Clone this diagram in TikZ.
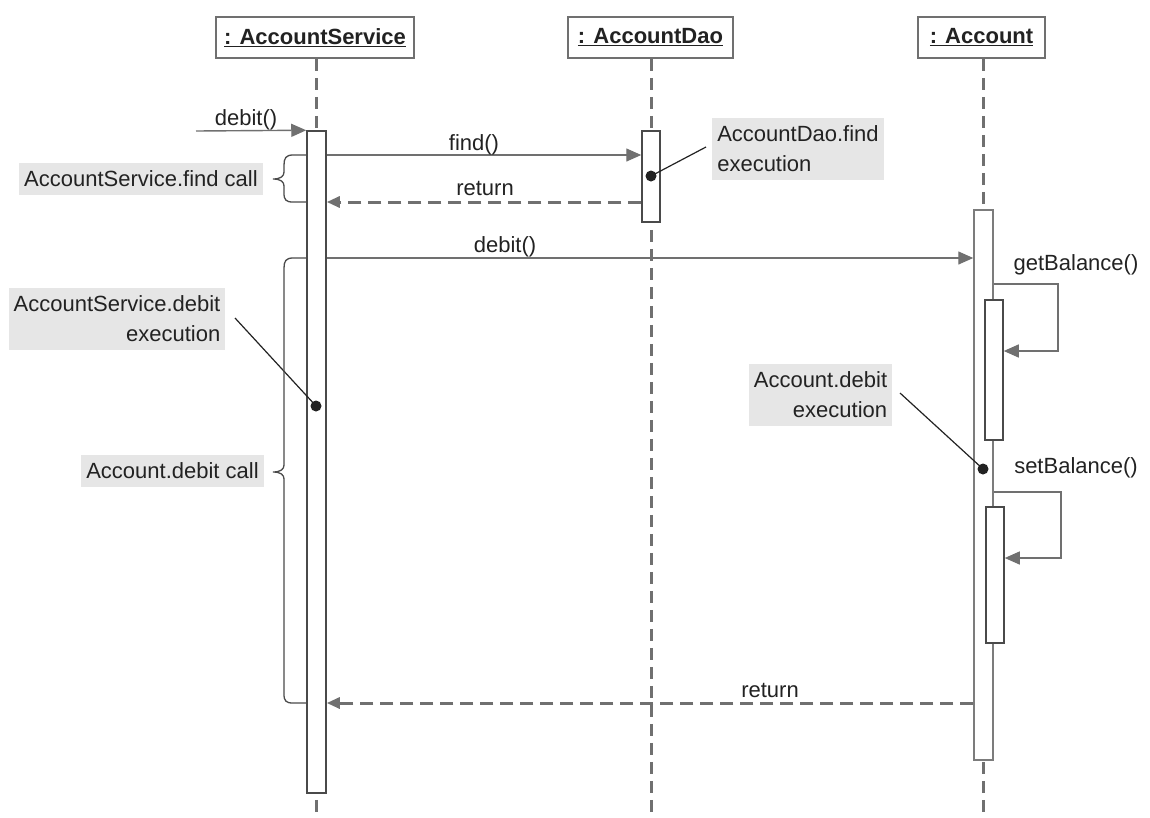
\documentclass[tikz,border=0pt]{standalone}
\usepackage{fontspec}
\setmainfont{Liberation Sans}
\usetikzlibrary{arrows.meta}
\definecolor{linegray}{HTML}{707070}
\definecolor{boxline}{HTML}{4A4A4A}
\definecolor{softline}{HTML}{7C7C7C}
\definecolor{notegray}{HTML}{E6E6E6}
\definecolor{ink}{HTML}{222222}
\begin{document}
\begin{tikzpicture}[x=1pt,y=-1pt,
  lbl/.style={font=\fontsize{22}{30}\selectfont, text=ink, inner sep=0pt},
  notebox/.style={lbl, fill=notegray, inner xsep=5pt, inner ysep=8pt},
  head/.style={draw=linegray, line width=1.5pt, fill=white, minimum height=41pt, inner sep=0pt,
    font=\fontsize{22}{26}\selectfont\bfseries, text=ink},
  lifeline/.style={draw=linegray, line width=3pt, dash pattern=on 12pt off 7pt},
  act/.style={draw=boxline, line width=1.5pt, fill=white, inner sep=0pt, minimum width=19pt},
  msg/.style={draw=linegray, line width=1.4pt, -{Triangle[length=15pt,width=13pt]}},
  ret/.style={draw=linegray, line width=3pt, dash pattern=on 13pt off 7pt,
    -{Triangle[length=13pt,width=11pt]}},
  pin/.style={draw=ink, line width=1.2pt},
  dot/.style={circle, fill=ink, inner sep=0pt, minimum size=11pt},
  bracepath/.style={draw=boxline, line width=1.3pt}]
\useasboundingbox (0,0) rectangle (1150,817);

% object headers
\node[head, minimum width=198pt] (hSvc) at (315,37.5) {\underline{: AccountService}};
\node[head, minimum width=165pt] (hDao) at (650.5,37.5) {\underline{: AccountDao}};
\node[head, minimum width=127pt] (hAcc) at (981.5,37.5) {\underline{: Account}};

% lifeline ends
\coordinate (eSvc) at (316,817);
\coordinate (eDao) at (651,817);
\coordinate (eAcc) at (983,817);
\draw[lifeline] (hSvc.south -| eSvc) -- (eSvc);
\draw[lifeline] (hDao.south -| eDao) -- (eDao);
\draw[lifeline] (hAcc.south -| eAcc) -- (eAcc);

% activation bars
\node[act, minimum height=662pt] (aSvc) at (316.5,462) {};
\node[act, minimum width=18pt, minimum height=91pt] (aDao) at (651,176.5) {};
\node[act, draw=softline, minimum height=550pt] (aAcc) at (983.5,485) {};
\node[act, minimum width=18pt, minimum height=140pt] (aGet) at (994,370) {};
\node[act, minimum width=18pt, minimum height=136pt] (aSet) at (995,575) {};

% incoming call
\coordinate (src) at (196,131);
\draw[msg] (src) -- (aSvc.north west);
\node[lbl, anchor=base] (lDebit0) at (246,125) {debit()};

% find / return
\draw[msg] (aSvc.east |- 0,155) -- (aDao.west |- 0,155);
\node[lbl, anchor=base] (lFind) at (474,150) {find()};
\draw[ret] (aDao.west |- 0,202) -- (aSvc.east |- 0,202);
\node[lbl, anchor=base] (lRet1) at (485,195) {return};

% debit on account
\draw[msg] (aSvc.east |- 0,258) -- (aAcc.west |- 0,258);
\node[lbl, anchor=base] (lDebit1) at (505,252) {debit()};

% self calls
\coordinate (gR1) at (1058,284);
\coordinate (gR2) at (1058,351);
\draw[msg] (aAcc.east |- gR1) -- (gR1) -- (gR2) -- (aGet.east |- gR2);
\node[lbl, anchor=base] (lGet) at (1076,270) {getBalance()};
\coordinate (sR1) at (1061,492);
\coordinate (sR2) at (1061,558);
\draw[msg] (aAcc.east |- sR1) -- (sR1) -- (sR2) -- (aSet.east |- sR2);
\node[lbl, anchor=base] (lSet) at (1076,473) {setBalance()};

% final return
\draw[ret] (aAcc.west |- 0,703) -- (aSvc.east |- 0,703);
\node[lbl, anchor=base] (lRet2) at (770,697) {return};

% notes
\node[notebox, align=left] (nDao) at (798,149) {AccountDao.find\\execution};
\node[notebox, align=right] (nSvcDebit) at (117,319) {AccountService.debit\\execution};
\node[notebox, align=right] (nAccDebit) at (820.5,395) {Account.debit\\execution};
\node[notebox] (nFindCall) at (141,179) {AccountService.find call};
\node[notebox] (nDebitCall) at (172.5,471) {Account.debit call};

% execution markers
\node[dot] (dDao) at (651,176) {};
\node[dot] (dSvc) at (316,406) {};
\node[dot] (dAcc) at (983,469) {};
\coordinate (pDao) at (706,147);
\coordinate (pSvc) at (235,318);
\coordinate (pAcc) at (900,393);
\draw[pin] (dDao.center) -- (pDao);
\draw[pin] (dSvc.center) -- (pSvc);
\draw[pin] (dAcc.center) -- (pAcc);

% braces
\draw[bracepath] (307,155) -- (293,155) .. controls (286,155) and (284,158) .. (284,165)
  -- (284,172) .. controls (284,176) and (281,179) .. (273,179)
  .. controls (281,179) and (284,182) .. (284,186) -- (284,193)
  .. controls (284,200) and (286,202) .. (293,202) -- (307,202);
\draw[bracepath] (307,258) -- (293,258) .. controls (286,258) and (284,261) .. (284,268)
  -- (284,465) .. controls (284,469) and (281,472) .. (273,472)
  .. controls (281,472) and (284,475) .. (284,479) -- (284,694)
  .. controls (284,701) and (286,703) .. (293,703) -- (307,703);
\end{tikzpicture}
\end{document}
